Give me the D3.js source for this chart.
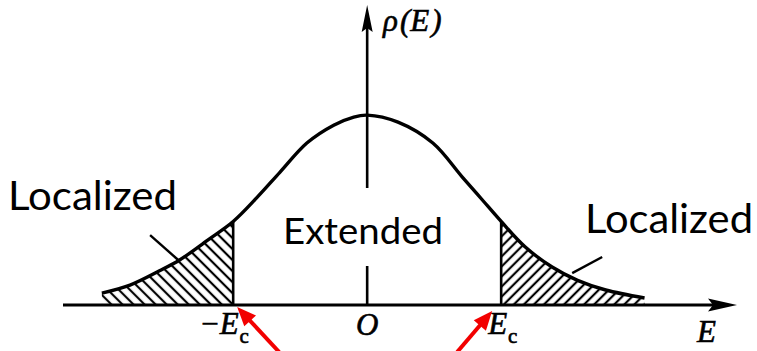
<!DOCTYPE html>
<html>
<head>
<meta charset="utf-8">
<script src="https://cdn.jsdelivr.net/npm/d3@7"></script>
<style>
  html, body { margin: 0; padding: 0; background: #fff; }
  svg { display: block; }
</style>
</head>
<body>
<svg id="chart" width="757" height="351"></svg>
<script>
// Density of states rho(E) across the band (E in units of the mobility edge Ec)
const energy  = [-1.98, -1.77, -1.55, -1.40, -1.19, -1.00, -0.82, -0.65, -0.45, -0.25, -0.10, 0.00,
                  0.23, 0.49, 0.71, 0.86, 1.00, 1.18, 1.38, 1.57, 1.78, 2.07];
const density = [0.063, 0.105, 0.180, 0.237, 0.342, 0.440, 0.568, 0.700, 0.853, 0.947, 0.990, 1.000,
                 0.963, 0.853, 0.674, 0.553, 0.440, 0.305, 0.200, 0.130, 0.079, 0.037];

// Mobility edges -Ec and +Ec
const mobilityEdges = [-1, 1];
const edgeSigns = ["−", ""];

// Region captions
const regionLabels = ["Localized", "Extended", "Localized"];

// Axis captions
const yAxisLabel = ["ρ", "(", "E", ")"];
const xAxisLabel = "E";
const originLabel = "O";

const svg = d3.select("#chart");
const x = d3.scaleLinear().domain([-2.27, 2.76]).range([63, 737]);
const y = d3.scaleLinear().domain([0, 1.58]).range([305, 5]);

const pts = energy.map((e, i) => [e, density[i]]);
const curve = d3.curveCatmullRom.alpha(0.5);

// hatch patterns
const defs = svg.append("defs");
function hatch(id, angle, gap) {
  const p = defs.append("pattern")
    .attr("id", id)
    .attr("patternUnits", "userSpaceOnUse")
    .attr("width", gap).attr("height", 20)
    .attr("patternTransform", `rotate(${angle})`);
  p.append("line")
    .attr("x1", gap / 2).attr("x2", gap / 2)
    .attr("y1", -2).attr("y2", 22)
    .attr("stroke", "#000").attr("stroke-width", 2.2);
}
hatch("hatchL", -45, 7.8);
hatch("hatchR", 45, 7.1);

// clip regions: tails beyond the mobility edges
defs.append("clipPath").attr("id", "clipL").append("rect")
  .attr("x", 0).attr("y", 0)
  .attr("width", x(mobilityEdges[0])).attr("height", y(0));
defs.append("clipPath").attr("id", "clipR").append("rect")
  .attr("x", x(mobilityEdges[1])).attr("y", 0)
  .attr("width", 757 - x(mobilityEdges[1])).attr("height", y(0));

const area = d3.area()
  .x(d => x(d[0])).y0(y(0)).y1(d => y(d[1]))
  .curve(curve);

svg.append("path").datum(pts).attr("d", area)
  .attr("fill", "url(#hatchL)").attr("clip-path", "url(#clipL)");
svg.append("path").datum(pts).attr("d", area)
  .attr("fill", "url(#hatchR)").attr("clip-path", "url(#clipR)");

// vertical lines at the mobility edges
const rhoAt = e => density[energy.indexOf(e)];
svg.selectAll("line.edge").data(mobilityEdges).join("line")
  .attr("class", "edge")
  .attr("x1", d => x(d)).attr("x2", d => x(d))
  .attr("y1", y(0)).attr("y2", d => y(rhoAt(d)))
  .attr("stroke", "#000").attr("stroke-width", 2.6);

// density of states curve
const line = d3.line().x(d => x(d[0])).y(d => y(d[1])).curve(curve);
svg.append("path").datum(pts).attr("d", line)
  .attr("fill", "none").attr("stroke", "#000")
  .attr("stroke-width", 3.4).attr("stroke-linecap", "butt");

// axes
const [xmin, xmax] = x.domain();
const [ymin, ymax] = y.domain();
svg.append("line")
  .attr("x1", x(xmin)).attr("x2", x(xmax) - 10)
  .attr("y1", y(0)).attr("y2", y(0))
  .attr("stroke", "#000").attr("stroke-width", 2.8);
svg.append("path")
  .attr("d", `M${x(xmax)},${y(0)} L${x(xmax) - 29},${y(0) - 6.5} L${x(xmax) - 24},${y(0)} L${x(xmax) - 29},${y(0) + 6.5} Z`)
  .attr("fill", "#000");
svg.append("line")
  .attr("x1", x(0)).attr("x2", x(0))
  .attr("y1", y(ymin)).attr("y2", y(ymax) + 10)
  .attr("stroke", "#000").attr("stroke-width", 2.6);
svg.append("path")
  .attr("d", `M${x(0)},${y(ymax)} L${x(0) - 5.5},${y(ymax) + 27} L${x(0)},${y(ymax) + 23} L${x(0) + 5.5},${y(ymax) + 27} Z`)
  .attr("fill", "#000");

// caption box for the extended states
svg.append("rect")
  .attr("x", 278).attr("y", 188).attr("width", 178).attr("height", 78)
  .attr("fill", "#fff");

const sans = "Lato, 'Open Sans', sans-serif";
svg.append("text").text(regionLabels[1])
  .attr("x", 283).attr("y", 244)
  .attr("font-family", sans).attr("font-size", 36)
  .attr("textLength", 160).attr("lengthAdjust", "spacingAndGlyphs")
  .attr("fill", "#000");
svg.append("text").text(regionLabels[0])
  .attr("x", 8).attr("y", 210)
  .attr("font-family", sans).attr("font-size", 41)
  .attr("textLength", 169).attr("lengthAdjust", "spacingAndGlyphs")
  .attr("fill", "#000");
svg.append("text").text(regionLabels[2])
  .attr("x", 585).attr("y", 233)
  .attr("font-family", sans).attr("font-size", 40)
  .attr("textLength", 168).attr("lengthAdjust", "spacingAndGlyphs")
  .attr("fill", "#000");

// leader lines from the captions into the localized tails
const leaders = [
  [[-1.62, 0.368], [-1.41, 0.237]],
  [[1.754, 0.253], [1.53, 0.168]]
];
svg.selectAll("line.leader").data(leaders).join("line")
  .attr("class", "leader")
  .attr("x1", d => x(d[0][0])).attr("y1", d => y(d[0][1]))
  .attr("x2", d => x(d[1][0])).attr("y2", d => y(d[1][1]))
  .attr("stroke", "#000").attr("stroke-width", 2.4);

// math labels (italic serif, slightly heavy like printed type)
const serif = "'Liberation Serif', 'DejaVu Serif', serif";
function mathText(sel) {
  return sel.attr("font-family", serif).attr("font-style", "italic")
    .attr("font-size", 31).attr("fill", "#000")
    .attr("stroke", "#000").attr("stroke-width", 0.6);
}
const yl = mathText(svg.append("text").attr("x", 383).attr("y", 31));
yl.append("tspan").text(yAxisLabel[0]);
yl.append("tspan").text(yAxisLabel[1]).attr("dx", 2);
yl.append("tspan").text(yAxisLabel[2]);
yl.append("tspan").text(yAxisLabel[3]).attr("dx", 2);

mathText(svg.append("text").text(xAxisLabel).attr("x", 697).attr("y", 342));

mathText(svg.append("text").text(originLabel)
  .attr("x", x(0)).attr("y", 335).attr("text-anchor", "middle"));

mobilityEdges.forEach((e, i) => {
  const t = mathText(svg.append("text")
    .attr("x", i === 0 ? x(e) - 32 : x(e) - 13).attr("y", 334));
  if (edgeSigns[i]) t.append("tspan").text(edgeSigns[i]).attr("font-style", "normal");
  t.append("tspan").text("E").attr("dx", i === 0 ? 1 : 0);
  t.append("tspan").text("c").attr("font-size", 21).attr("font-style", "normal")
    .attr("dx", 1).attr("dy", 9);
});

// red pointers to the mobility edges
const red = "#f20000";
const pointers = [
  { tip: [x(mobilityEdges[0]) + 4, y(0) + 2], tail: [x(mobilityEdges[0]) + 46, 352] },
  { tip: [x(mobilityEdges[1]) - 9, y(0) + 6], tail: [x(mobilityEdges[1]) - 44, 352] }
];
pointers.forEach(p => {
  const dx = p.tip[0] - p.tail[0], dy = p.tip[1] - p.tail[1];
  const len = Math.hypot(dx, dy), ux = dx / len, uy = dy / len;
  const hl = 19, hw = 8;
  const bx = p.tip[0] - ux * hl, by = p.tip[1] - uy * hl;
  svg.append("line")
    .attr("x1", p.tail[0]).attr("y1", p.tail[1])
    .attr("x2", bx + ux * 2).attr("y2", by + uy * 2)
    .attr("stroke", red).attr("stroke-width", 4);
  svg.append("path")
    .attr("d", `M${p.tip[0]},${p.tip[1]} L${bx - uy * hw},${by + ux * hw} L${bx + uy * hw},${by - ux * hw} Z`)
    .attr("fill", red);
});
</script>
</body>
</html>
